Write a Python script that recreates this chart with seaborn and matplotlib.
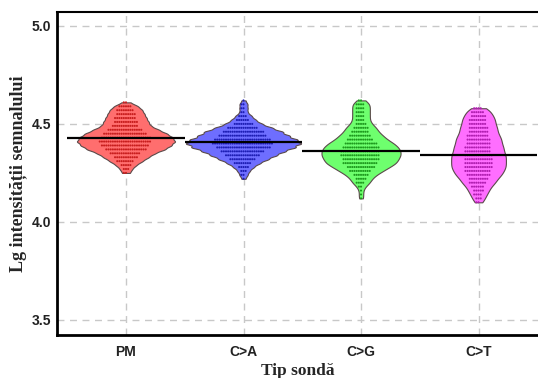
import numpy as np
import pandas as pd
import matplotlib
matplotlib.use("Agg")
import matplotlib.pyplot as plt
import seaborn as sns

categories = ["PM", "C>A", "C>G", "C>T"]

pm_levels = [4.61, 4.59, 4.57, 4.55, 4.53, 4.51, 4.49, 4.47, 4.45, 4.43, 4.41,
             4.39, 4.37, 4.35, 4.33, 4.31, 4.29, 4.27, 4.25]
pm_counts = [2, 6, 8, 9, 10, 11, 12, 16, 20, 23, 24, 22, 19, 14, 11, 8, 5, 3, 2]

ca_levels = [4.62, 4.60, 4.58, 4.56, 4.54, 4.52, 4.50, 4.48, 4.46, 4.44, 4.42,
             4.40, 4.38, 4.36, 4.34, 4.32, 4.30, 4.28, 4.26, 4.24, 4.22]
ca_counts = [1, 2, 2, 2, 4, 6, 9, 14, 19, 22, 26, 28, 25, 20, 16, 12, 8, 5, 3, 2, 1]

cg_levels = [4.62, 4.60, 4.58, 4.56, 4.54, 4.52, 4.50, 4.48, 4.46, 4.44, 4.42,
             4.40, 4.38, 4.36, 4.34, 4.32, 4.30, 4.28, 4.26, 4.24, 4.22, 4.20,
             4.18, 4.16, 4.14, 4.12]
cg_counts = [2, 4, 4, 4, 4, 4, 5, 7, 8, 10, 12, 15, 17, 18, 18, 17, 16, 13, 10,
             7, 5, 4, 2, 1, 1, 1]

ct_levels = [4.58, 4.56, 4.54, 4.52, 4.50, 4.48, 4.46, 4.44, 4.42, 4.40, 4.38,
             4.36, 4.34, 4.32, 4.30, 4.28, 4.26, 4.24, 4.22, 4.20, 4.18, 4.16,
             4.14, 4.12, 4.10]
ct_counts = [4, 6, 7, 8, 8, 9, 9, 10, 11, 11, 12, 12, 13, 13, 13, 13, 12, 11, 9,
             8, 6, 5, 4, 3, 2]

mean_values = [4.43, 4.41, 4.36, 4.34]

yticks = [3.5, 4.0, 4.5, 5.0]

fill_colors = ["#FF6E6E", "#6E6EFF", "#6EFF6E", "#FF6EFF"]
dot_colors = ["#C81E1E", "#1E1EB4", "#1E9A1E", "#B01EB0"]

levels = [pm_levels, ca_levels, cg_levels, ct_levels]
counts = [pm_counts, ca_counts, cg_counts, ct_counts]
frames = []
for cat, lv, ct in zip(categories, levels, counts):
    frames.append(pd.DataFrame({"probe": cat, "lg": np.repeat(lv, ct)}))
df = pd.concat(frames, ignore_index=True)

sns.set_style("white")
plt.rcParams["font.family"] = ["Liberation Sans", "DejaVu Sans"]

fig = plt.figure(figsize=(5.38, 3.78), dpi=100)
ax = fig.add_axes([57 / 538, 1 - 335 / 378, 1 - 57 / 538, (335 - 12) / 378])

sns.violinplot(data=df, x="probe", y="lg", hue="probe", order=categories,
               hue_order=categories, palette=fill_colors, cut=0, bw_adjust=0.38,
               density_norm="area", common_norm=True, inner=None, width=0.98,
               linewidth=0.8, linecolor="#5A4A4A", saturation=1, legend=False,
               ax=ax)

sns.swarmplot(data=df, x="probe", y="lg", hue="probe", order=categories,
              hue_order=categories, palette=dot_colors, size=1.5, linewidth=0,
              legend=False, ax=ax, warn_thresh=1.0)

for i, m in enumerate(mean_values):
    ax.hlines(m, i - 0.5, i + 0.5, color="black", linewidth=1.6, zorder=5)

ax.grid(True, axis="both", color="#C8C8C8", linestyle=(0, (5, 4)), linewidth=1.0)
ax.set_axisbelow(True)

ax.set_xlim(-0.587, 3.506)
ax.set_ylim(3.423, 5.071)
ax.set_yticks(yticks)
ax.set_yticklabels([f"{v:.1f}" for v in yticks])

for s in ["left", "bottom"]:
    ax.spines[s].set_linewidth(2.0)
    ax.spines[s].set_color("black")
ax.spines["top"].set_linewidth(1.5)
ax.spines["top"].set_color("black")
ax.spines["right"].set_visible(False)

ax.tick_params(axis="both", which="both", direction="out", length=3, width=1.2,
               color="#333333", labelsize=10, pad=1.5)
ax.tick_params(axis="x", pad=4)
for lab in ax.get_xticklabels() + ax.get_yticklabels():
    lab.set_fontweight("bold")
    lab.set_color("#222222")

ax.set_xlabel("Tip sondă", fontfamily=["Liberation Serif", "DejaVu Serif"],
              fontweight="bold", fontsize=12.5, labelpad=3)
ax.set_ylabel("Lg intensității semnalului",
              fontfamily=["Liberation Serif", "DejaVu Serif"],
              fontweight="bold", fontsize=13, labelpad=3)

fig.savefig("out.png", dpi=100)
